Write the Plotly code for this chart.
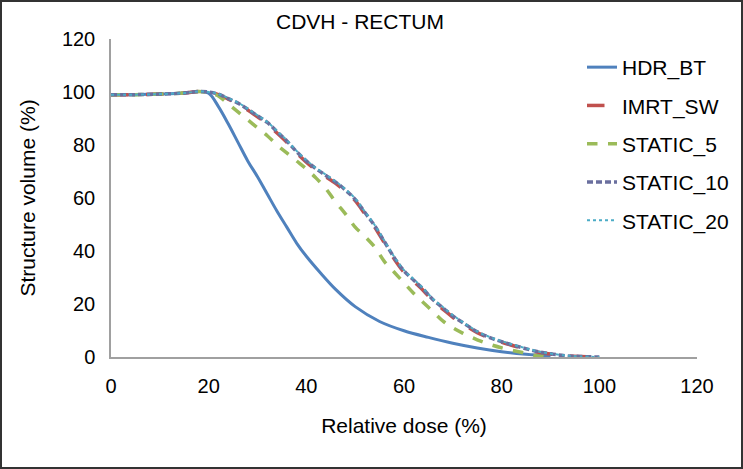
import plotly.graph_objects as go

# ---------------- data ----------------
dose_hdr = [0, 5, 10, 15, 18, 20, 22, 24, 26, 28, 30, 32, 34, 36, 38, 40, 43, 46, 50, 55, 60, 65, 70, 75, 80, 85, 90]
vol_hdr = [99, 99, 99.2, 99.6, 100.2, 99.5, 94.5, 88, 81, 74, 68, 61.5, 55, 49, 43, 38, 31.5, 25.5, 19, 13.4, 9.9, 7.4, 5.2, 3.4, 2, 1, 0.3]

dose_grid = [0, 5, 10, 15, 18, 20, 22, 24, 26, 28, 30, 32, 34, 36, 38, 40, 42, 44, 46, 48, 50,
             52, 54, 56, 58, 60, 62, 64, 66, 68, 70, 72, 75, 78, 81, 84, 87, 90, 93, 96, 100]
vol_imrt = [99, 99, 99.2, 99.6, 100.2, 100, 99.0, 97.3, 95.5, 93.2, 90.6, 88.0, 84.5, 81.0, 77.0, 73.5,
            70.5, 68.0, 65.5, 62.5, 59.0, 54.0, 49.0, 43.0, 37.0, 32.0, 28.5, 25.0, 21.0, 18.0, 15.0,
            12.5, 9.2, 6.8, 5.0, 3.4, 2.0, 1.1, 0.5, 0.2, 0]
vol_s10 = [99, 99, 99.2, 99.6, 100.2, 100, 99.2, 97.5, 95.8, 93.5, 91.0, 88.5, 85.0, 81.5, 77.5, 74.0,
           71.0, 68.5, 66.0, 63.0, 59.5, 54.5, 49.5, 43.5, 37.5, 32.5, 29.0, 25.5, 21.5, 18.5, 15.5,
           13.0, 9.5, 7.0, 5.2, 3.6, 2.2, 1.2, 0.5, 0.2, 0]
vol_s20 = [99, 99, 99.2, 99.6, 100.2, 100, 99.3, 97.7, 96.0, 93.7, 91.2, 88.7, 85.3, 81.8, 77.8, 74.3,
           71.3, 68.8, 66.3, 63.3, 59.8, 54.8, 49.8, 43.8, 37.8, 32.8, 29.3, 25.8, 21.8, 18.8, 15.8,
           13.2, 9.7, 7.2, 5.4, 3.8, 2.3, 1.3, 0.6, 0.2, 0]
dose_s5 = [0, 5, 10, 15, 18, 20, 22, 24, 26, 28, 30, 32, 34, 36, 38, 40, 42, 44, 46, 48, 50,
           52, 54, 56, 58, 60, 62, 64, 66, 68, 70, 72, 75, 78, 81, 84, 87, 90]
vol_s5 = [99, 99, 99.2, 99.6, 100.2, 99.8, 98.5, 95.5, 92.5, 89.5, 86.5, 83.5, 80.0, 77.0, 74.0, 71.0,
          67.5, 63.5, 58.5, 54.0, 49.0, 45.5, 41.5, 36.0, 32.0, 28.0, 24.0, 20.5, 17.0, 13.5, 11.0,
          9.0, 6.5, 4.5, 3.0, 1.8, 0.5, 0]

x_ticks = [0, 20, 40, 60, 80, 100, 120]
y_ticks = [0, 20, 40, 60, 80, 100, 120]

FONT = "Arial, Liberation Sans, sans-serif"

fig = go.Figure()
fig.add_trace(go.Scatter(x=dose_hdr, y=vol_hdr, name="HDR_BT", mode="lines",
                         line=dict(color="#4F81BD", width=3, shape="spline"), legendgroup="a"))
fig.add_trace(go.Scatter(x=dose_grid, y=vol_imrt, name="IMRT_SW", mode="lines",
                         line=dict(color="#C0504D", width=3.5, dash="longdash", shape="spline"), legendgroup="b"))
fig.add_trace(go.Scatter(x=dose_s5, y=vol_s5, name="STATIC_5", mode="lines",
                         line=dict(color="#9BBB59", width=3.5, dash="dash", shape="spline"), legendgroup="c"))
fig.add_trace(go.Scatter(x=dose_grid, y=vol_s10, name="STATIC_10", mode="lines",
                         line=dict(color="#6A6F9E", width=3.5, dash="6px,3px", shape="spline"), legendgroup="d"))
fig.add_trace(go.Scatter(x=dose_grid, y=vol_s20, name="STATIC_20", mode="lines",
                         line=dict(color="#4BACC6", width=2, dash="dot", shape="spline"), legendgroup="e"))

L, R, T, B = 111, 46, 39, 112
W, H = 743, 469
pw, ph = W - L - R, H - T - B

fig.update_layout(
    width=W, height=H,
    margin=dict(l=L, r=R, t=T, b=B, autoexpand=False),
    paper_bgcolor="white", plot_bgcolor="white",
    font=dict(family=FONT, size=20, color="black"),
    title=dict(text="CDVH - RECTUM", x=360 / W, xanchor="center", y=1 - 22 / H, yanchor="middle",
               font=dict(family=FONT, size=21, color="black")),
    showlegend=True,
    legend=dict(x=(582 - L) / pw, xanchor="left", y=1 - (47 - T) / ph, yanchor="top",
                font=dict(family=FONT, size=21, color="black"), tracegroupgap=8,
                bgcolor="rgba(0,0,0,0)", itemwidth=30),
    xaxis=dict(range=[0, 120], tickvals=x_ticks, ticks="", showgrid=False, zeroline=False,
               showline=True, linecolor="#A0A0A0", linewidth=1.5, ticklabelstandoff=10,
               automargin=False, tickfont=dict(size=20),
               title=dict(text="Relative dose (%)", standoff=23, font=dict(size=21))),
    yaxis=dict(range=[0, 120], tickvals=y_ticks, ticks="", showgrid=False, zeroline=False,
               showline=True, linecolor="#A0A0A0", linewidth=1.5, ticklabelstandoff=10,
               automargin=False, tickfont=dict(size=20),
               title=dict(text="Structure volume (%)", standoff=21, font=dict(size=21))),
    shapes=[dict(type="rect", xref="paper", yref="paper",
                 x0=-(L - 1) / pw, x1=1 + (R - 1) / pw, y0=-(B - 1) / ph, y1=1 + (T - 1) / ph,
                 line=dict(color="#333333", width=2), fillcolor="rgba(0,0,0,0)", layer="above")],
)

fig.write_html("out.html", config={"displayModeBar": False},
               post_script="document.body.style.margin='0px';")
